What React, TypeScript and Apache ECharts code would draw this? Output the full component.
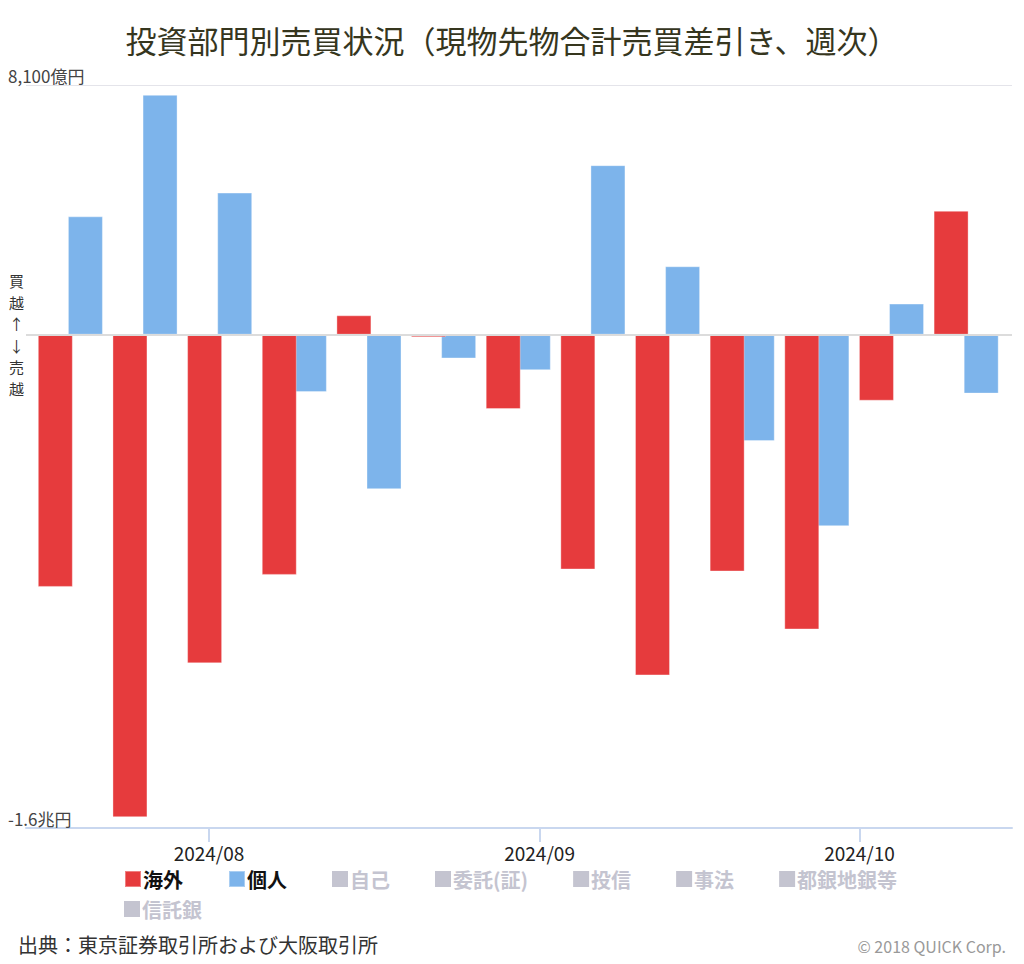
import React, { useEffect, useRef } from "react";
import * as echarts from "echarts";

// Weekly dates (week-ending Fridays)
const weeks = [
  "2024-07-19", "2024-07-26", "2024-08-02", "2024-08-09", "2024-08-16",
  "2024-08-23", "2024-08-30", "2024-09-06", "2024-09-13", "2024-09-20",
  "2024-09-27", "2024-10-04", "2024-10-11",
];
// 億円
const overseas = [-8180, -15650, -10660, -7790, 630, -80, -2410, -7615, -11050, -7680, -9560, -2140, 4020];
const individuals = [3840, 7780, 4610, -1860, -5010, -770, -1150, 5500, 2220, -3450, -6210, 1010, -1910];

const activeSeries = ["海外", "個人"];
const inactiveSeries = ["自己", "委託(証)", "投信", "事法", "都銀地銀等", "信託銀"];

const yTickValues = [-16000, 8100];
const yTickLabels = ["-1.6兆円", "8,100億円"];
const xTickDates = ["2024-08-01", "2024-09-01", "2024-10-01"];
const xTickLabels = ["2024/08", "2024/09", "2024/10"];

const toTs = (s: string) => {
  const [y, m, d] = s.split("-").map(Number);
  return Date.UTC(y, m - 1, d);
};

export default function App() {
  const ref = useRef<HTMLDivElement>(null);
  useEffect(() => {
    if (!ref.current) return;
    const chart = echarts.init(ref.current, null, { renderer: "svg" });
    const font = "'Noto Sans CJK JP', 'Noto Sans', sans-serif";
    const day = 86400000;
    const aug1 = toTs(xTickDates[0]);
    const xMin = aug1 - 17.16 * day;
    const xMax = toTs(xTickDates[2]) + 14.3 * day;
    const xTickTs = xTickDates.map((d) => toTs(d));

    const legendSelected: Record<string, boolean> = {};
    inactiveSeries.forEach((n) => (legendSelected[n] = false));

    const series: any[] = [
      {
        name: activeSeries[0],
        type: "bar",
        data: weeks.map((w, i) => [toTs(w), overseas[i]]),
        barWidth: 35,
        barGap: "-14%",
        z: 3,
        itemStyle: { color: "#e63b3d", borderColor: "rgba(255,255,255,0.35)", borderWidth: 1 },
        markLine: {
          silent: true,
          symbol: ["none", "none"],
          label: { show: false },
          data: [
            { yAxis: 0, lineStyle: { color: "#dcdcdc", width: 2, type: "solid" } },
            { yAxis: yTickValues[1], lineStyle: { color: "#e4e4ea", width: 1, type: "solid" } },
          ],
        },
      },
      {
        name: activeSeries[1],
        type: "bar",
        data: weeks.map((w, i) => [toTs(w), individuals[i]]),
        barWidth: 35,
        barGap: "-14%",
        z: 2,
        itemStyle: { color: "#7db4eb", borderColor: "rgba(255,255,255,0.35)", borderWidth: 1 },
      },
      ...inactiveSeries.map((n) => ({ name: n, type: "bar", data: [], itemStyle: { color: "#999" } })),
    ];

    const legendCommon = {
      orient: "horizontal",
      icon: "rect",
      itemWidth: 16,
      itemHeight: 16,
      itemGap: 45,
      inactiveColor: "#c4c4d0",
      selected: legendSelected,
      textStyle: { fontFamily: font, fontSize: 20, fontWeight: "bold", color: "#111", padding: [0, 0, 0, -3] },
    };

    chart.setOption({
      animation: false,
      textStyle: { fontFamily: font },
      title: {
        text: "投資部門別売買状況（現物先物合計売買差引き、週次）",
        left: "center",
        top: 19,
        textStyle: { fontFamily: font, fontSize: 31, fontWeight: "normal", color: "#36361e" },
      },
      legend: [
        { ...legendCommon, left: 119, top: 864, data: [...activeSeries, ...inactiveSeries.slice(0, 5)] },
        { ...legendCommon, left: 119, top: 894, data: inactiveSeries.slice(5) },
      ],
      grid: { left: 26, right: 12, top: 85, bottom: 136, containLabel: false },
      xAxis: {
        type: "value",
        min: xMin,
        max: xMax,
        axisLine: { show: true, onZero: false, lineStyle: { color: "#c9d7ef", width: 2 } },
        axisTick: { show: true, length: 14, lineStyle: { color: "#c9d7ef", width: 2 }, customValues: xTickTs },
        axisLabel: {
          customValues: xTickTs,
          margin: 15,
          fontSize: 19,
          color: "#222",
          fontFamily: font,
          formatter: (v: number) => {
            const idx = xTickTs.findIndex((t) => Math.abs(t - v) < day);
            return idx >= 0 ? xTickLabels[idx] : "";
          },
        },
        splitLine: { show: false },
      },
      yAxis: {
        type: "value",
        min: yTickValues[0],
        max: yTickValues[1],
        axisLine: { show: false },
        axisTick: { show: false },
        splitLine: { show: false },
        axisLabel: {
          customValues: yTickValues,
          align: "left",
          verticalAlign: "bottom",
          margin: 18,
          fontSize: 17,
          lineHeight: 20,
          color: "#444",
          fontFamily: font,
          formatter: (v: number) => {
            const idx = yTickValues.indexOf(v);
            return idx >= 0 ? yTickLabels[idx] : "";
          },
        },
      },
      graphic: [
        {
          type: "text",
          left: 9,
          top: 270,
          style: {
            text: "買\n越\n↑\n↓\n売\n越",
            fontSize: 15,
            lineHeight: 21.5,
            fill: "#333",
            fontFamily: font,
            align: "center",
          },
        },
        {
          type: "text",
          left: 18,
          top: 934,
          style: { text: "出典：東京証券取引所および大阪取引所", fontSize: 20, fill: "#333", fontFamily: font },
        },
        {
          type: "text",
          right: 18,
          top: 938,
          style: { text: "© 2018 QUICK Corp.", fontSize: 16, fill: "#999", fontFamily: font },
        },
      ],
      series,
    });
    return () => chart.dispose();
  }, []);
  return <div ref={ref} style={{ width: 1024, height: 964, position: "absolute", left: 0, top: 0 }} />;
}
